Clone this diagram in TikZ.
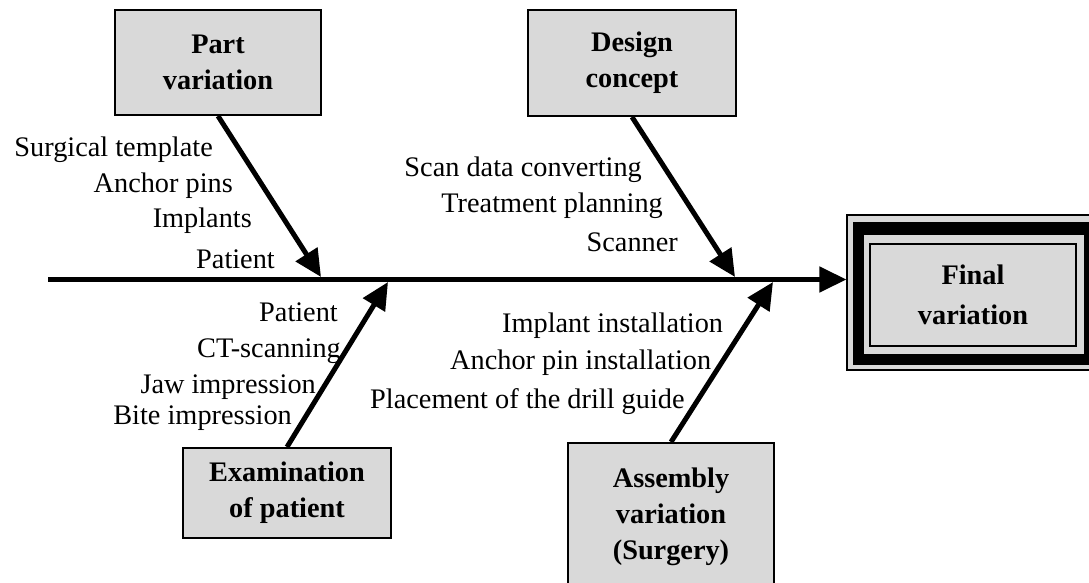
\documentclass[tikz,border=0pt]{standalone}
\usepackage{fontspec}
\setmainfont{Liberation Serif}
\usetikzlibrary{arrows.meta}
\definecolor{boxgray}{RGB}{217,217,217}
\begin{document}
\begin{tikzpicture}[x=1pt,y=-1pt,
  box/.style={draw=black, line width=2pt, fill=boxgray, align=center,
    font=\fontsize{28.3}{36}\selectfont\bfseries, inner sep=0pt},
  lbl/.style={font=\fontsize{28.3}{34}\selectfont, inner sep=0pt, anchor=base east},
  lblw/.style={font=\fontsize{28.3}{34}\selectfont, inner sep=0pt, anchor=base west},
  bone/.style={line width=5pt, -{Triangle[length=27pt,width=25pt]}},
]
\clip (0,0) rectangle (1089,583);

% cause boxes
\node[box, minimum width=206pt, minimum height=105pt] (part) at (218,62.5) {Part\\variation};
\node[box, minimum width=208pt, minimum height=106pt] (design) at (632,63) {Design\\concept};
\node[box, minimum width=208pt, minimum height=90pt] (exam) at (287,493) {Examination\\of patient};
\node[box, minimum width=206pt, minimum height=147pt] (assembly) at (671,516.5) {Assembly\\variation\\(Surgery)};

% final box
\node[draw=black, line width=1.2pt, fill=boxgray, minimum width=254pt, minimum height=155pt, inner sep=0pt] (final) at (974,292.5) {};
\fill[black] ([shift={(7,8)}]final.north west) rectangle ([shift={(-7,-6)}]final.south east);
\fill[boxgray] ([shift={(18,21)}]final.north west) rectangle ([shift={(-18,-17)}]final.south east);
\node[draw=black, line width=1.5pt, minimum width=206pt, minimum height=102pt, inner sep=0pt,
  align=center, font=\fontsize{28.3}{40}\selectfont\bfseries] (finaltext) at (973,295) {Final\\variation};

% spine
\coordinate (s0) at (48,279.5);
\draw[bone] (s0) -- (s0 -| final.west);

% bones
\coordinate (tp) at (321,277);
\coordinate (td) at (735,277);
\coordinate (te) at (388,282);
\coordinate (ta) at (773,282);
\draw[bone] (part.south) -- (tp);
\draw[bone] (design.south) -- (td);
\draw[bone] (exam.north) -- (te);
\draw[bone] (assembly.north) -- (ta);

% labels: part variation
\node[lbl] (l1) at (213,157) {Surgical template};
\node[lbl] (l2) at (233,192) {Anchor pins};
\node[lbl] (l3) at (252,227) {Implants};
\node[lbl] (l4) at (275,268) {Patient};
% design concept
\node[lbl] (d1) at (642,176) {Scan data converting};
\node[lbl] (d2) at (663,212) {Treatment planning};
\node[lbl] (d3) at (678,251) {Scanner};
% examination
\node[lbl] (e1) at (338,321) {Patient};
\node[lbl] (e2) at (341,357) {CT-scanning};
\node[lbl] (e3) at (316,393) {Jaw impression};
\node[lbl] (e4) at (292,424) {Bite impression};
% assembly
\node[lblw] (a1) at (502,332) {Implant installation};
\node[lblw] (a2) at (450,369) {Anchor pin installation};
\node[lblw] (a3) at (370,408) {Placement of the drill guide};
\end{tikzpicture}
\end{document}
